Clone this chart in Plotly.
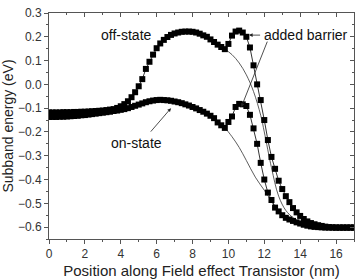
import plotly.graph_objects as go

# ---- data ----
x_sym = [round(i * 0.2, 1) for i in range(86)]

off_state = [-0.118, -0.118, -0.118, -0.118, -0.117, -0.117, -0.117, -0.116, -0.116, -0.115,
             -0.115, -0.114, -0.113, -0.112, -0.111, -0.110, -0.108, -0.106, -0.104, -0.099,
             -0.092, -0.083, -0.071, -0.054, -0.033, -0.008, 0.022, 0.065, 0.095, 0.125,
             0.152, 0.172, 0.187, 0.199, 0.208, 0.214, 0.218, 0.221, 0.222, 0.222,
             0.221, 0.218, 0.213, 0.206, 0.200, 0.189, 0.178, 0.167, 0.157, 0.148,
             0.170, 0.205, 0.222, 0.226, 0.218, 0.200, 0.155, 0.080, 0.000, -0.066,
             -0.150, -0.234, -0.305, -0.355, -0.405, -0.440, -0.470, -0.495, -0.520, -0.538,
             -0.553, -0.566, -0.576, -0.583, -0.588, -0.592, -0.595, -0.598, -0.600, -0.601,
             -0.602, -0.602, -0.602, -0.602, -0.602, -0.602]

on_state = [-0.137, -0.137, -0.137, -0.136, -0.136, -0.135, -0.134, -0.133, -0.132, -0.130,
            -0.129, -0.127, -0.125, -0.123, -0.121, -0.119, -0.117, -0.115, -0.112, -0.110,
            -0.107, -0.104, -0.100, -0.095, -0.090, -0.085, -0.080, -0.075, -0.071, -0.068,
            -0.066, -0.065, -0.066, -0.067, -0.069, -0.072, -0.075, -0.079, -0.084, -0.089,
            -0.095, -0.101, -0.108, -0.115, -0.123, -0.132, -0.142, -0.160, -0.172, -0.183,
            -0.158, -0.135, -0.095, -0.082, -0.084, -0.091, -0.128, -0.185, -0.250, -0.330,
            -0.400, -0.455, -0.486, -0.518, -0.534, -0.550, -0.561, -0.568, -0.574, -0.580,
            -0.585, -0.590, -0.594, -0.597, -0.599, -0.600, -0.601, -0.602, -0.602, -0.602,
            -0.602, -0.602, -0.602, -0.602, -0.602, -0.602]

x_off_thin = [9.6, 9.8, 10.2, 10.6, 11.0, 11.4, 11.8, 12.0, 12.4, 12.8, 13.2, 13.6, 14.0, 15.0, 17.0]
off_thin = [0.157, 0.148, 0.125, 0.090, 0.040, -0.030, -0.130, -0.200, -0.350, -0.470, -0.530, -0.560, -0.580, -0.598, -0.602]

x_on_thin = [9.6, 9.8, 10.2, 10.6, 11.0, 11.5, 12.0, 12.4, 12.8, 13.4, 14.2, 15.0, 17.0]
on_thin = [-0.172, -0.183, -0.220, -0.265, -0.320, -0.390, -0.445, -0.490, -0.530, -0.568, -0.590, -0.600, -0.602]

x_ticks = [0, 2, 4, 6, 8, 10, 12, 14, 16]
y_ticks = [0.3, 0.2, 0.1, 0.0, -0.1, -0.2, -0.3, -0.4, -0.5, -0.6]

FONT = "Liberation Sans, Arial, sans-serif"

fig = go.Figure()
thin = dict(color="#333333", width=0.8)
fig.add_trace(go.Scatter(x=x_off_thin, y=off_thin, mode="lines", line=dict(shape="spline", **thin), showlegend=False))
fig.add_trace(go.Scatter(x=x_on_thin, y=on_thin, mode="lines", line=dict(shape="spline", **thin), showlegend=False))
for ys in (off_state, on_state):
    fig.add_trace(go.Scatter(x=x_sym, y=ys, mode="lines+markers",
                             line=dict(color="black", width=0.8),
                             marker=dict(symbol="square", size=6, color="black"),
                             showlegend=False))

axcol = "#555555"
tickfont = dict(family=FONT, size=12, color="#333333")
fig.update_layout(
    width=356, height=279,
    margin=dict(l=49, r=2, t=13, b=40),
    plot_bgcolor="white", paper_bgcolor="white",
    font=dict(family=FONT, color="#222222"),
    xaxis=dict(range=[0, 17], tickvals=x_ticks, ticks="outside", ticklen=4, tickcolor=axcol,
               minor=dict(dtick=1, ticks="outside", ticklen=2, tickcolor=axcol),
               showline=True, linecolor=axcol, linewidth=1, showgrid=False, zeroline=False,
               tickfont=tickfont,
               title=dict(text="Position along Field effect Transistor (nm)", font=dict(size=15), standoff=5)),
    yaxis=dict(range=[-0.65, 0.3], tickvals=y_ticks, tickformat=".1f", ticks="outside", ticklen=4, tickcolor=axcol,
               minor=dict(dtick=0.05, ticks="outside", ticklen=2, tickcolor=axcol),
               showline=True, linecolor=axcol, linewidth=1, showgrid=False, zeroline=False,
               tickfont=tickfont,
               title=dict(text="Subband energy (eV)", font=dict(size=14), standoff=2)),
    xaxis2=dict(range=[0, 17], overlaying="x", side="top", tickvals=x_ticks, ticks="inside", ticklen=4,
                tickcolor=axcol, minor=dict(dtick=1, ticks="inside", ticklen=2, tickcolor=axcol),
                showline=True, linecolor=axcol, linewidth=1, showticklabels=False, showgrid=False, zeroline=False),
    yaxis2=dict(range=[-0.65, 0.3], overlaying="y", side="right", tickvals=y_ticks, ticks="inside", ticklen=4,
                tickcolor=axcol, minor=dict(dtick=0.05, ticks="inside", ticklen=2, tickcolor=axcol),
                showline=True, linecolor=axcol, linewidth=1, showticklabels=False, showgrid=False, zeroline=False),
)
fig.add_trace(go.Scatter(x=[None], y=[None], xaxis="x2", yaxis="y2", showlegend=False, hoverinfo="skip"))

lblfont = dict(family=FONT, size=14, color="#111111")
fig.add_annotation(x=4.3, y=0.208, text="off-state", showarrow=False, font=lblfont)
fig.add_annotation(x=4.9, y=-0.247, text="on-state", showarrow=False, font=lblfont)
fig.add_annotation(x=14.33, y=0.207, text="added barrier", showarrow=False, font=lblfont)
arr = dict(showarrow=True, arrowhead=2, arrowsize=0.9, arrowwidth=0.8, arrowcolor="#222222",
           axref="x", ayref="y", text="")
fig.add_annotation(x=6.8, y=-0.1, ax=5.6, ay=-0.205, **arr)
fig.add_annotation(x=11.15, y=0.207, ax=11.85, ay=0.207, **arr)
fig.add_annotation(x=10.72, y=-0.095, ax=12.2, ay=0.186, **arr)

fig.write_html("out.html")
